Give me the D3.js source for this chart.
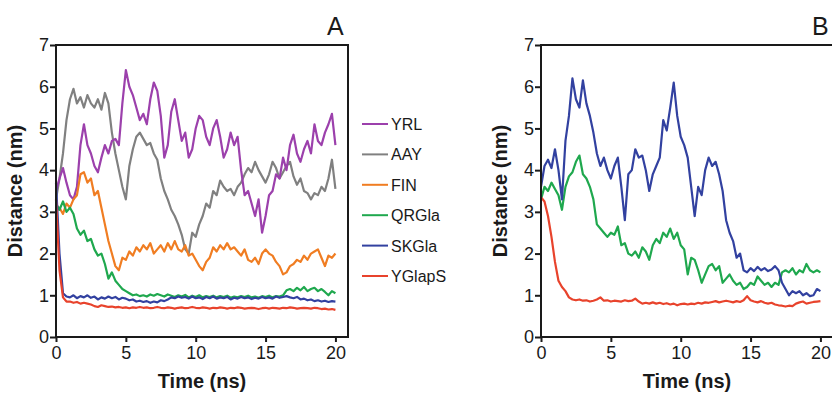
<!DOCTYPE html>
<html lang="en">
<head>
<meta charset="utf-8">
<title>Distance vs Time</title>
<script src="https://d3js.org/d3.v7.min.js"></script>
<style>
  body { margin: 0; background: #fff; }
  svg text { font-family: "Liberation Sans", Arial, sans-serif; fill: #1a1a1a; }
  .axis line { stroke: #1a1a1a; stroke-width: 2px; }
  .axis text { font-size: 18px; }
</style>
</head>
<body>
<script>
// sample grid: every 0.25 ns from 0 to 20
var timeStep = 0.25;

// panel A
var yrlA = [3.5, 3.8, 4.05, 3.7, 3.4, 3.3, 3.6, 4.6,
  5.1, 4.6, 4.4, 4.1, 3.95, 4.3, 4.6, 4.4,
  4.7, 4.75, 4.6, 5.6, 6.4, 6.0, 5.8, 5.5,
  5.2, 5.35, 5.1, 5.7, 6.1, 5.9, 5.3, 4.3,
  4.6, 5.4, 5.7, 5.2, 4.7, 4.9, 4.3, 4.5,
  5.0, 5.3, 5.2, 4.8, 4.6, 5.0, 5.2, 4.8,
  4.3, 4.5, 4.9, 4.6, 4.8, 4.0, 3.4, 3.5,
  3.2, 2.9, 3.3, 2.5, 2.9, 3.4, 3.5, 3.9,
  3.8, 4.3, 4.0, 4.6, 4.85, 4.4, 4.2, 4.5,
  4.7, 4.4, 5.1, 4.7, 4.6, 4.9, 5.1, 5.35,
  4.6];
var aayA = [3.3, 3.8, 4.4, 5.2, 5.7, 5.95, 5.6, 5.75,
  5.5, 5.8, 5.6, 5.5, 5.7, 5.45, 5.85, 5.6,
  4.9, 4.4, 4.0, 3.6, 3.3, 4.1, 4.5, 4.8,
  4.9, 4.75, 4.6, 4.65, 4.4, 4.25, 3.8, 3.5,
  3.3, 3.05, 2.9, 2.7, 2.45, 2.1, 2.0, 2.5,
  2.4, 2.7, 2.9, 3.2, 3.1, 3.5, 3.4, 3.75,
  3.6, 3.5, 3.55, 3.4, 3.6, 3.7, 3.9, 4.05,
  3.95, 4.2, 4.0, 3.85, 3.7, 3.9, 4.2, 4.05,
  3.8, 3.95, 4.1, 4.2, 3.85, 3.65, 3.8, 3.5,
  3.45, 3.3, 3.45, 3.4, 3.6, 3.5, 3.8, 4.25,
  3.55];
var finA = [3.0, 3.1, 2.95, 3.2, 3.1, 3.3, 3.4, 3.9,
  3.95, 3.7, 3.8, 3.4, 3.5, 3.1, 2.7, 2.3,
  2.0, 1.7, 1.6, 1.9, 1.85, 2.05, 1.95, 2.15,
  2.05, 2.2, 2.1, 2.25, 2.0, 2.1, 2.2, 2.05,
  2.25, 2.1, 2.3, 2.1, 2.05, 2.2, 1.95, 2.0,
  1.85, 1.7, 1.6, 1.8, 1.9, 2.15, 2.05, 2.2,
  2.1, 2.25, 2.1, 2.15, 2.05, 1.95, 2.1, 1.85,
  1.8, 1.9, 1.75, 2.0, 2.1, 2.0, 1.95, 1.8,
  1.7, 1.5, 1.55, 1.7, 1.75, 1.85, 1.8, 1.95,
  1.85, 2.0, 2.05, 2.1, 1.9, 1.7, 1.95, 1.9,
  2.0];
var qrglaA = [3.2, 3.05, 3.25, 3.0, 3.1, 2.95, 2.6, 2.45,
  2.55, 2.3, 2.35, 2.1, 1.95, 2.0, 1.75, 1.4,
  1.55, 1.35, 1.25, 1.15, 1.1, 1.05, 1.0, 1.02,
  0.98, 1.0, 0.97, 1.02, 0.99, 1.03, 1.0, 0.97,
  1.02, 0.99, 0.96, 1.0, 0.97, 1.01, 0.95, 0.99,
  0.96, 1.0, 0.95, 0.98, 0.96, 0.99, 0.95, 0.98,
  0.96, 0.99, 0.94, 0.97, 0.95, 0.98, 0.96, 0.99,
  0.95, 0.97, 0.94, 0.98, 0.96, 0.99, 0.95, 0.98,
  0.97, 1.0, 1.12, 1.15, 1.1, 1.18, 1.12, 1.2,
  1.1, 1.15, 1.18, 1.1, 1.15, 1.08, 1.0, 1.1,
  1.05];
var skglaA = [3.7, 2.0, 1.05, 0.97, 0.95, 1.0, 0.93, 0.98,
  0.95, 1.0, 0.94, 0.97, 0.9, 0.95, 0.92, 0.97,
  0.93, 0.96, 0.9, 0.94, 0.92, 0.88, 0.9, 0.85,
  0.87, 0.84, 0.86, 0.82, 0.85, 0.83, 0.88, 0.86,
  0.9, 0.95, 0.93, 0.97, 0.94, 0.96, 0.92, 0.97,
  0.93, 0.95, 0.91, 0.96, 0.93, 0.97, 0.92, 0.95,
  0.93, 0.96, 0.9, 0.94, 0.92, 0.96, 0.93, 0.95,
  0.91, 0.94, 0.92, 0.96, 0.93, 0.95, 0.92, 0.97,
  0.94, 0.96, 0.98, 0.95, 0.93, 0.96, 0.9, 0.92,
  0.88, 0.9, 0.86, 0.88, 0.85, 0.87, 0.84, 0.86,
  0.85];
var yglapsA = [3.3, 1.6, 0.95, 0.85, 0.85, 0.82, 0.84, 0.8,
  0.82, 0.8, 0.78, 0.74, 0.72, 0.76, 0.74, 0.72,
  0.73, 0.71, 0.72, 0.7, 0.71, 0.69, 0.71, 0.7,
  0.72, 0.7, 0.71, 0.69, 0.7, 0.72, 0.7, 0.69,
  0.71, 0.7, 0.68, 0.7, 0.71, 0.69, 0.7, 0.72,
  0.7, 0.69, 0.71, 0.7, 0.68, 0.7, 0.69, 0.71,
  0.7, 0.68, 0.7, 0.69, 0.71, 0.7, 0.68, 0.69,
  0.7, 0.69, 0.67, 0.69, 0.7, 0.68, 0.7, 0.69,
  0.68, 0.7, 0.69, 0.71, 0.7, 0.68, 0.69, 0.7,
  0.69, 0.68, 0.7, 0.69, 0.67, 0.68, 0.66, 0.67,
  0.65];

// panel B
var skglaB = [3.6, 4.1, 4.25, 4.05, 4.5, 4.0, 3.3, 4.7,
  5.3, 6.2, 5.7, 5.5, 6.15, 5.6, 5.3, 4.9,
  4.4, 4.1, 4.3, 4.0, 3.8, 4.1, 4.3, 3.6,
  2.8, 3.9, 4.0, 4.5, 4.3, 4.35, 4.0, 3.5,
  3.9, 4.1, 4.3, 5.2, 4.95, 5.5, 6.1, 5.3,
  4.8, 4.6, 4.3, 3.6, 2.9, 3.6, 3.4, 4.0,
  4.3, 4.1, 4.2, 3.9, 3.5, 2.8, 2.5, 2.3,
  1.9, 2.0, 1.6, 1.55, 1.65, 1.58, 1.68, 1.6,
  1.65, 1.58, 1.62, 1.7, 1.6, 1.3, 1.15, 1.0,
  1.1, 1.05, 1.1, 1.0, 1.05, 0.98, 1.0, 1.15,
  1.1];
var qrglaB = [3.3, 3.6, 3.5, 3.7, 3.55, 3.4, 3.05, 3.6,
  3.85, 3.95, 4.2, 4.35, 3.9, 3.8, 3.6, 3.3,
  2.7, 2.6, 2.5, 2.4, 2.5, 2.45, 2.65, 2.2,
  2.25, 2.0, 1.95, 2.05, 1.9, 2.15, 2.05, 1.85,
  2.2, 2.35, 2.25, 2.5, 2.4, 2.6, 2.35, 2.5,
  2.2, 2.1, 1.5, 1.9, 1.85, 1.6, 1.3, 1.5,
  1.7, 1.75, 1.6, 1.7, 1.3, 1.4, 1.5, 1.35,
  1.25, 1.3, 1.15, 1.2, 1.3, 1.25, 1.45, 1.35,
  1.25, 1.3, 1.2, 1.3, 1.25, 1.55, 1.6, 1.55,
  1.65, 1.5, 1.6, 1.55, 1.75, 1.6, 1.55, 1.6,
  1.55];
var yglapsB = [3.35, 3.25, 2.9, 2.4, 1.8, 1.35, 1.2, 1.1,
  0.95, 0.9, 0.88, 0.9, 0.87, 0.88, 0.85, 0.87,
  0.9, 0.95, 0.87, 0.88, 0.85, 0.87, 0.86, 0.85,
  0.88, 0.86, 0.87, 0.92, 0.85, 0.8, 0.82, 0.8,
  0.83, 0.8, 0.82, 0.79, 0.81, 0.78, 0.8, 0.76,
  0.79, 0.8, 0.78, 0.8, 0.79, 0.82, 0.8, 0.83,
  0.82, 0.84, 0.86, 0.83, 0.85, 0.87, 0.85, 0.83,
  0.86, 0.84, 0.88, 0.98, 0.88, 0.85, 0.83, 0.86,
  0.82, 0.8, 0.82, 0.78, 0.76, 0.75, 0.73, 0.75,
  0.74, 0.8, 0.83, 0.85, 0.8, 0.82, 0.84, 0.85,
  0.86];

var seriesNames = ["YRL", "AAY", "FIN", "QRGla", "SKGla", "YGlapS"];
var seriesColors = ["#9c40ac", "#808080", "#f07d22", "#1fa84e", "#3241a0", "#e8432c"];
var xTicks = [0, 5, 10, 15, 20];
var yTicks = [0, 1, 2, 3, 4, 5, 6, 7];

var W = 832, H = 393;
var pw = 292, ph = 292;   // plot box size
var top0 = 45;

var svg = d3.select("body").append("svg")
  .attr("width", W)
  .attr("height", H);

var x = d3.scaleLinear().domain([0, 20.9]).range([0, pw]);
var y = d3.scaleLinear().domain([0, 7]).range([ph, 0]);

function drawPanel(left, lines, letter) {
  var g = svg.append("g").attr("transform", "translate(" + left + "," + top0 + ")");

  var line = d3.line()
    .x(function(d, i) { return x(i * timeStep); })
    .y(function(d) { return y(d); });

  lines.forEach(function(s) {
    g.append("path")
      .attr("d", line(s.values))
      .attr("fill", "none")
      .attr("stroke", s.color)
      .attr("stroke-width", 2.2)
      .attr("stroke-linejoin", "round");
  });

  // frame
  g.append("rect")
    .attr("x", 0).attr("y", 0)
    .attr("width", pw).attr("height", ph)
    .attr("fill", "none")
    .attr("stroke", "#1a1a1a")
    .attr("stroke-width", 2);

  var yAxis = d3.axisLeft(y).tickValues(yTicks).tickFormat(d3.format("d"))
    .tickSize(6).tickPadding(1).tickSizeOuter(0);
  var xAxis = d3.axisBottom(x).tickValues(xTicks).tickFormat(d3.format("d"))
    .tickSize(5).tickPadding(4).tickSizeOuter(0);

  var ya = g.append("g").attr("class", "axis").call(yAxis);
  ya.select(".domain").remove();
  var xa = g.append("g").attr("class", "axis")
    .attr("transform", "translate(0," + ph + ")")
    .call(xAxis);
  xa.select(".domain").remove();
  svg.selectAll(".axis text").attr("fill", "#1a1a1a").attr("font-family", null);

  g.append("text")
    .attr("transform", "translate(" + (-34) + "," + (ph / 2) + ") rotate(-90)")
    .attr("text-anchor", "middle")
    .attr("font-size", 20)
    .attr("font-weight", "bold")
    .text("Distance (nm)");

  g.append("text")
    .attr("x", pw / 2)
    .attr("y", ph + 51)
    .attr("text-anchor", "middle")
    .attr("font-size", 20)
    .attr("font-weight", "bold")
    .text("Time (ns)");

  g.append("text")
    .attr("x", x(20))
    .attr("y", -10)
    .attr("text-anchor", "middle")
    .attr("font-size", 25)
    .text(letter);
}

drawPanel(56, [
  { color: seriesColors[1], values: aayA },
  { color: seriesColors[0], values: yrlA },
  { color: seriesColors[2], values: finA },
  { color: seriesColors[3], values: qrglaA },
  { color: seriesColors[4], values: skglaA },
  { color: seriesColors[5], values: yglapsA }
], "A");

drawPanel(541, [
  { color: seriesColors[3], values: qrglaB },
  { color: seriesColors[4], values: skglaB },
  { color: seriesColors[5], values: yglapsB }
], "B");

// legend for panel A
var legend = svg.append("g").attr("transform", "translate(362,124)");
seriesNames.forEach(function(name, i) {
  var row = legend.append("g").attr("transform", "translate(0," + (i * 30.4) + ")");
  row.append("line")
    .attr("x1", 0).attr("x2", 26)
    .attr("y1", 0).attr("y2", 0)
    .attr("stroke", seriesColors[i])
    .attr("stroke-width", 2);
  row.append("text")
    .attr("x", 29)
    .attr("y", 6)
    .attr("font-size", 16)
    .text(name);
});
</script>
</body>
</html>
